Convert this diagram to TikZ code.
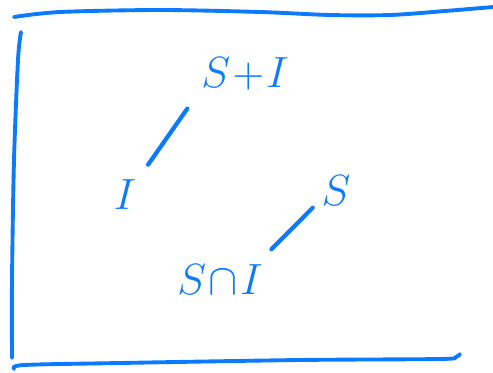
\documentclass[tikz,border=0pt]{standalone}
\usepackage{amsmath,amssymb}
\usepackage{xcolor}
\usepackage{tikz}
\usetikzlibrary{positioning,calc}
\definecolor{penblue}{RGB}{10,122,255}

\begin{document}
\begin{tikzpicture}[x=0.02cm, y=-0.02cm, line cap=round, line join=round,
  pen/.style={draw=penblue, line width=2.2pt},
  lbl/.style={text=penblue, font=\fontsize{26}{30}\selectfont, inner sep=2pt},
  edge/.style={draw=penblue, line width=2.4pt}]
  \useasboundingbox (0,0) rectangle (493,372);
  % frame
  \draw[pen] plot[smooth] coordinates {(14,17) (60,12) (160,10) (260,12) (330,15) (390,15) (445,11) (493,7)};
  \draw[pen] plot[smooth] coordinates {(21,32) (18,60) (14,160) (12,280) (12,358)};
  \draw[pen] plot[smooth] coordinates {(14,369) (24,365) (120,363) (300,360) (440,359) (456,357) (460,354)};
  % labels
  \node[lbl] (sum) at (245,74) {$S\!+\!I$};
  \node[lbl] (i) at (125,195) {$I$};
  \node[lbl] (s) at (336,191) {$S$};
  \node[lbl] (cap) at (220,280) {$S\!\cap\!I$};
  % lines
  \draw[edge, shorten <=8pt, shorten >=10pt] (i.north east) -- (sum.south west);
  \draw[edge, shorten <=4pt, shorten >=4pt] ([yshift=4pt]cap.north east) -- ([yshift=4pt]s.south west);
\end{tikzpicture}
\end{document}
